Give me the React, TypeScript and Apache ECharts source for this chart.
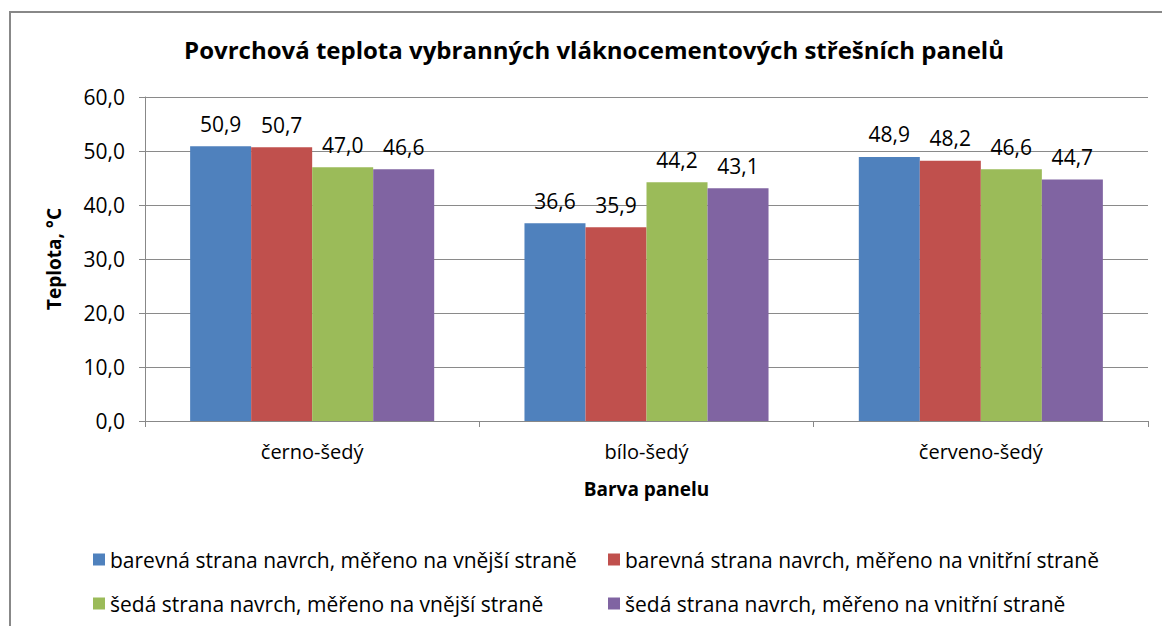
import React, { useEffect, useRef } from "react";
import * as echarts from "echarts";

const categories = ["černo-šedý", "bílo-šedý", "červeno-šedý"];
const seriesNames = [
  "barevná strana navrch, měřeno na vnější straně",
  "barevná strana navrch, měřeno na vnitřní straně",
  "šedá strana navrch, měřeno na vnější straně",
  "šedá strana navrch, měřeno na vnitřní straně",
];
const colorOut = [50.9, 36.6, 48.9];
const colorIn = [50.7, 35.9, 48.2];
const greyOut = [47.0, 44.2, 46.6];
const greyIn = [46.6, 43.1, 44.7];
const colors = ["#4F81BD", "#C0504D", "#9BBB59", "#8064A2"];

const FONT = "Open Sans";

export default function App() {
  const ref = useRef<HTMLDivElement>(null);
  useEffect(() => {
    const chart = echarts.init(ref.current!, null, { renderer: "svg" });
    const data = [colorOut, colorIn, greyOut, greyIn];
    const fmt = (v: number) => v.toFixed(1).replace(".", ",");
    const legendBase = {
      orient: "vertical",
      top: 544,
      itemWidth: 12,
      itemHeight: 12,
      itemGap: 23,
      icon: "rect",
      textStyle: { fontFamily: FONT, fontSize: 21, color: "#000" },
    };
    chart.setOption({
      animation: false,
      textStyle: { fontFamily: FONT },
      graphic: [
        {
          type: "rect",
          shape: { x: 10, y: 12, width: 1200, height: 700 },
          style: { fill: "none", stroke: "#888", lineWidth: 2 },
          silent: true,
        },
      ],
      title: {
        text: "Povrchová teplota vybranných vláknocementových střešních panelů",
        left: 589,
        textAlign: "center",
        top: 32,
        textStyle: { fontFamily: FONT, fontSize: 24, fontWeight: "bold", color: "#000" },
      },
      legend: [
        { ...legendBase, left: 88, data: [seriesNames[0], seriesNames[2]] },
        { ...legendBase, left: 603, data: [seriesNames[1], seriesNames[3]] },
      ],
      grid: { left: 145, right: 14, top: 97, bottom: 205, containLabel: false },
      xAxis: {
        type: "category",
        data: categories,
        name: "Barva panelu",
        nameLocation: "middle",
        nameGap: 58,
        nameTextStyle: { fontFamily: FONT, fontSize: 19, fontWeight: "bold", color: "#000" },
        axisLine: { lineStyle: { color: "#888" } },
        axisTick: { show: true, length: 6, lineStyle: { color: "#888" } },
        axisLabel: { fontFamily: FONT, fontSize: 20, color: "#000", margin: 20 },
      },
      yAxis: {
        type: "value",
        min: 0,
        max: 60,
        interval: 10,
        name: "Teplota, °C",
        nameLocation: "middle",
        nameGap: 82,
        nameRotate: 90,
        nameTextStyle: { fontFamily: FONT, fontSize: 19, fontWeight: "bold", color: "#000" },
        axisLine: { show: true, lineStyle: { color: "#888" } },
        axisTick: { show: true, length: 6, lineStyle: { color: "#888" } },
        axisLabel: { fontFamily: FONT, fontSize: 21, color: "#000", margin: 20, formatter: (v: number) => fmt(v) },
        splitLine: { lineStyle: { color: "#8a8a8a" } },
      },
      series: seriesNames.map((name, i) => ({
        name,
        type: "bar",
        data: data[i],
        itemStyle: { color: colors[i] },
        barGap: "0%",
        barCategoryGap: "27%",
        label: {
          show: true,
          position: "top",
          distance: 12,
          fontFamily: FONT,
          fontSize: 21,
          color: "#000",
          formatter: (p: any) => fmt(p.value),
        },
      })),
    });
    return () => chart.dispose();
  }, []);
  return (
    <div
      ref={ref}
      style={{ position: "absolute", left: 0, top: 0, width: 1162, height: 626, background: "#fff" }}
    />
  );
}
